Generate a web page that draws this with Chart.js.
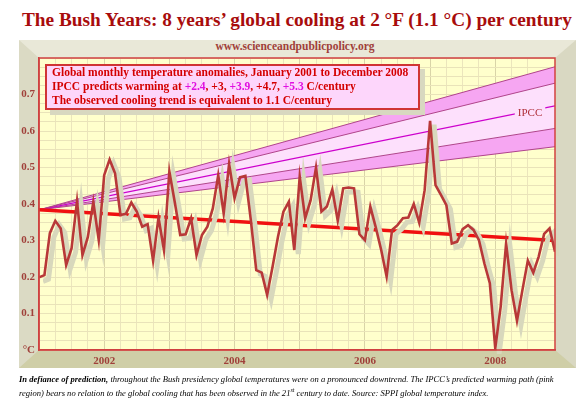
<!DOCTYPE html>
<html>
<head>
<meta charset="utf-8">
<script src="https://cdn.jsdelivr.net/npm/chart.js@4"></script>
<style>
  body { margin: 0; width: 581px; height: 398px; background: #fff; position: relative; overflow: hidden; font-family: "Liberation Serif", serif; }
  #title { position: absolute; left: 22px; top: 9px; font-weight: bold; font-size: 19.3px; color: #a80c0c; white-space: nowrap; }
  #frame { position: absolute; left: 19px; top: 40px; width: 516px; height: 292px;
    border-style: solid; border-width: 18px 21px 18px 20px;
    border-color: #e9e8d8 #d9d8c2 #cfcea7 #dbdac4; background: #ffffcc; }
  #site { position: absolute; left: 0; top: 40px; width: 590px; text-align: center; font-weight: bold; font-size: 11.5px; color: #a0403a; }
  #chart { position: absolute; left: 0; top: 0; }
  #box { position: absolute; left: 45px; top: 64px; width: 366px; height: 42px; background: #fdd6fb;
    border: 2px solid #d03434; box-shadow: 5px 5px 0 #d8d8c0; padding: 0 0 0 5px;
    font-weight: bold; font-size: 11.5px; line-height: 13.8px; color: #d40000; white-space: nowrap; }
  #box .m { color: #e010e0; }
  #note { position: absolute; left: 19px; top: 374px; width: 560px; font-style: italic; font-size: 8.55px; line-height: 11px; color: #000; white-space: nowrap; }
</style>
</head>
<body>
<div id="title">The Bush Years: 8 years’ global cooling at 2 °F (1.1 °C) per century</div>
<div id="frame"></div>
<div id="site">www.scienceandpublicpolicy.org</div>
<canvas id="chart" width="581" height="398"></canvas>
<div id="box">
  Global monthly temperature anomalies, January 2001 to December 2008<br>
  IPCC predicts warming at <span class="m">+2.4</span>, +3, <span class="m">+3.9</span>, +4.7, <span class="m">+5.3</span> C/century<br>
  The observed cooling trend is equivalent to 1.1 C/century
</div>
<div id="note"><b>In defiance of prediction,</b> throughout the Bush presidency global temperatures were on a pronounced downtrend. The IPCC’s predicted warming path (pink<br>region) bears no relation to the global cooling that has been observed in the 21<sup style="font-size:6px">st</sup> century to date. Source: SPPI global temperature index.</div>
<script>
// monthly anomalies, Jan 2001 .. Dec 2008 (deg C)
const temps = [
  0.199, 0.205, 0.320, 0.354, 0.333, 0.233, 0.279, 0.408, 0.260, 0.310, 0.406, 0.301,
  0.479, 0.522, 0.484, 0.370, 0.373, 0.404, 0.379, 0.338, 0.345, 0.245, 0.363, 0.274,
  0.489, 0.405, 0.315, 0.317, 0.361, 0.260, 0.315, 0.338, 0.388, 0.479, 0.374, 0.510,
  0.416, 0.473, 0.477, 0.356, 0.219, 0.212, 0.151, 0.228, 0.310, 0.379, 0.406, 0.274,
  0.475, 0.361, 0.410, 0.500, 0.379, 0.393, 0.440, 0.354, 0.443, 0.445, 0.443, 0.317,
  0.301, 0.393, 0.336, 0.274, 0.201, 0.329, 0.342, 0.361, 0.363, 0.400, 0.349, 0.438,
  0.628, 0.452, 0.425, 0.397, 0.292, 0.297, 0.331, 0.342, 0.329, 0.301, 0.237, 0.183,
  0.005, 0.119, 0.292, 0.164, 0.080, 0.164, 0.245, 0.212, 0.256, 0.318, 0.333, 0.269
];
const months = temps.map((t, i) => i);

// observed trend, start and end value
const trendStart = 0.384;
const trendEnd = 0.300;

// IPCC projections from the same start, value at Dec 2008
const ipccRates = [5.3, 4.7, 3.9, 3.0, 2.4];
const ipccEnds = [0.776, 0.731, 0.669, 0.607, 0.557];

const yearTicks = [12, 36, 60, 84];
const yearLabels = ['2002', '2004', '2006', '2008'];

const last = months[months.length - 1];
const tickFont = { family: 'Liberation Serif', weight: 'bold', size: 11 };
const tickColor = '#a0403a';

const ipccColors = ['#b0448c', '#b0448c', '#cc00cc', '#b0448c', '#b0448c'];
const ipccFill = [
  { target: '+1', above: '#f6a6f2', below: '#f6a6f2' },
  { target: '+2', above: '#fde0fc', below: '#fde0fc' },
  false,
  { target: '+1', above: '#f6a6f2', below: '#f6a6f2' },
  false
];
const ipccSets = ipccRates.map((r, i) => ({
  label: '+' + r,
  data: [{ x: 0, y: trendStart }, { x: last, y: ipccEnds[i] }],
  borderColor: ipccColors[i],
  borderWidth: i === 2 ? 1.3 : 1,
  pointRadius: 0,
  fill: ipccFill[i]
}));

const bgPlugin = {
  id: 'bg',
  beforeDraw(chart) {
    const a = chart.chartArea, c = chart.ctx;
    c.save();
    c.fillStyle = '#ffffcc';
    c.fillRect(a.left, a.top, a.right - a.left, a.bottom - a.top);
    c.restore();
  },
  beforeDatasetDraw(chart, args) {
    if (args.index === 1) { chart.ctx.save(); chart.ctx.translate(4, 4); }
  },
  afterDatasetDraw(chart, args) {
    if (args.index === 1) chart.ctx.restore();
  },
  afterDatasetsDraw(chart) {
    const c = chart.ctx, xs = chart.scales.x, ys = chart.scales.y;
    const lx = 90.4;
    const v = trendStart + (ipccEnds[2] - trendStart) * lx / last;
    const px = xs.getPixelForValue(lx), py = ys.getPixelForValue(v) + 2;
    c.save();
    c.font = '11px "Liberation Serif"';
    const w = c.measureText('IPCC').width;
    c.fillStyle = '#fde0fc';
    c.fillRect(px - w / 2 - 3, py - 7, w + 6, 13);
    c.fillStyle = '#b0303a';
    c.textAlign = 'center';
    c.textBaseline = 'middle';
    c.fillText('IPCC', px, py);
    const a = chart.chartArea;
    c.strokeStyle = '#d04040';
    c.lineWidth = 1.5;
    c.strokeRect(a.left, a.top, a.right - a.left, a.bottom - a.top);
    c.restore();
  }
};

new Chart(document.getElementById('chart'), {
  type: 'line',
  data: {
    datasets: [
      { label: 'anomaly', data: months.map(i => ({ x: i, y: temps[i] })), borderColor: '#b83838', borderWidth: 2.6, pointRadius: 0, fill: false },
      { label: 'shadow', data: months.map(i => ({ x: i, y: temps[i] })), borderColor: '#d8d8bc', borderWidth: 5, pointRadius: 0, fill: false },
      { label: 'trend', data: [{ x: 0, y: trendStart }, { x: last, y: trendEnd }], borderColor: '#f01010', borderWidth: 3.5, pointRadius: 0, fill: false },
      ...ipccSets
    ]
  },
  options: {
    responsive: false,
    animation: false,
    layout: { padding: { left: 20, right: 26, top: 58, bottom: 30 } },
    plugins: {
      legend: { display: false },
      tooltip: { enabled: false },
      filler: { drawTime: 'beforeDatasetsDraw' }
    },
    scales: {
      x: {
        type: 'linear', min: 0, max: last,
        afterFit: s => { s.height = 18; },
        border: { color: '#d04040', width: 1.5 },
        grid: { drawTicks: false, color: c => (c.tick && c.tick.value % 12 === 0) ? '#d9d4a8' : '#ebe5bc' },
        ticks: {
          stepSize: 3, autoSkip: false, maxRotation: 0, padding: 5,
          font: tickFont, color: tickColor,
          callback: v => { const k = yearTicks.indexOf(v); return k >= 0 ? yearLabels[k] : ''; }
        }
      },
      y: {
        min: 0, max: 0.8,
        afterFit: s => { s.width = 19; },
        border: { color: '#d04040', width: 1.5 },
        grid: { drawTicks: false, color: '#e9e3b9' },
        ticks: {
          stepSize: 0.025, autoSkip: false, padding: 4,
          font: tickFont, color: tickColor,
          callback: v => {
            const r = Math.round(v * 1000);
            if (r === 0) return '°C';
            if (r % 100 === 0 && r < 800) return (r / 1000).toFixed(1);
            return '';
          }
        }
      }
    }
  },
  plugins: [bgPlugin]
});
</script>
</body>
</html>
